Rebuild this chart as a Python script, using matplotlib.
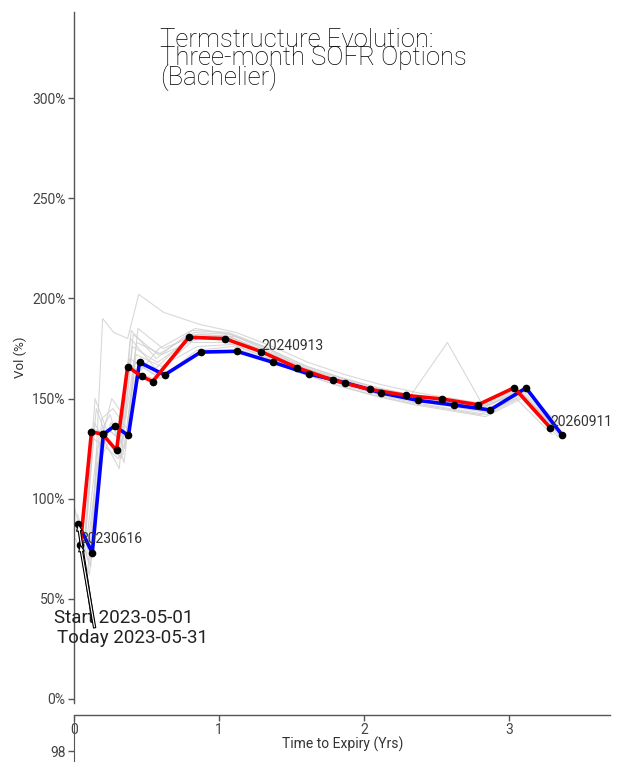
import matplotlib
matplotlib.use('Agg')
import matplotlib.pyplot as plt
from matplotlib.ticker import PercentFormatter, FixedLocator
from datetime import date

plt.rcParams['font.family'] = ['Roboto', 'DejaVu Sans']

# ---------------- data ----------------
EXPIRIES = ['2023-05-12', '2023-06-16', '2023-07-14', '2023-08-11', '2023-09-15',
            '2023-10-13', '2023-11-17', '2023-12-15', '2024-03-15', '2024-06-14',
            '2024-09-13', '2024-12-13', '2025-03-14', '2025-06-13', '2025-09-12',
            '2025-12-12', '2026-03-13', '2026-06-12', '2026-09-11']

START_DATE = '2023-05-01'
TODAY_DATE = '2023-05-31'

START_VOL = [87.2, 73.0, 132.2, 136.3, 131.6, 168.1, None, 161.8, 173.2, 173.6,
             168.1, 162.3, 157.9, 152.8, 149.1, 146.8, 144.3, 155.3, 131.7]
TODAY_VOL = [None, 76.9, 133.4, 132.2, 124.1, 166.0, 161.1, 158.5, 180.6, 179.9,
             173.4, 165.4, 159.1, 154.6, 151.6, 149.8, 146.9, 155.4, 135.4]

HIST_DATES = ['2023-05-03', '2023-05-05', '2023-05-08', '2023-05-10', '2023-05-12',
              '2023-05-15', '2023-05-17', '2023-05-19', '2023-05-22', '2023-05-24',
              '2023-05-26', '2023-05-30']
HIST_VOL = [
    [92, 70, 190, 183, 180, 202, None, 193, 187, 183, 176, 168, 162, 157, 153, 150, 147, 154, 136],
    [85, 66, 140, 145, 135, 185, None, 175, 182, 181, 174, 166, 160, 155, 151, 148, 145, 153, 134],
    [80, 62, 128, 150, 140, 178, None, 172, 180, 180, 172, 164, 158, 153, 149, 146, 143, 152, 133],
    [95, 68, 120, 138, 125, 172, None, 166, 176, 177, 170, 163, 157, 152, 148, 145, 142, 151, 132],
    [None, 64, 132, 142, 118, 168, None, 160, 174, 176, 169, 162, 156, 151, 147, 144, 141, 150, 131],
    [None, 72, 118, 128, 122, 160, None, 175, 185, 182, 175, 165, 159, 154, 150, 147, 144, 152, 135],
    [None, 75, 125, 135, 128, 182, None, 172, 183, 182, 174, 166, 160, 155, 152, 178, 146, 153, 134],
    [None, 78, 145, 130, 120, 176, None, 168, 181, 181, 173, 165, 159, 154, 150, 148, 145, 154, 136],
    [None, 74, 150, 135, 130, 184, None, 170, 184, 183, 176, 167, 161, 156, 152, 149, 146, 155, 137],
    [None, 70, 138, 128, 115, 180, None, 165, 182, 181, 174, 166, 160, 155, 151, 148, 145, 154, 135],
    [None, 66, 130, 126, 120, 170, None, 162, 178, 178, 171, 163, 157, 152, 148, 145, 142, 150, 132],
    [None, 75, 135, 133, 122, 168, 162, 160, 181, 180, 173, 165, 159, 154, 151, 149, 146, 155, 134],
]

LABELLED_EXPIRIES = ['2023-06-16', '2024-09-13', '2026-09-11']
Y_TICKS = [0, 0.5, 1.0, 1.5, 2.0, 2.5, 3.0]
X_TICKS = [0, 1, 2, 3]
LOWER_TICKS = [98]

TITLE = "Termstructure Evolution:\nThree-month SOFR Options\n(Bachelier)"


def d(s):
    return date.fromisoformat(s)


def curve(asof, vols):
    xs, ys, exps = [], [], []
    for e, v in zip(EXPIRIES, vols):
        if v is None:
            continue
        t = (d(e) - d(asof)).days / 365.0
        if t <= 0:
            continue
        xs.append(t)
        ys.append(v / 100.0)
        exps.append(e)
    return xs, ys, exps


# ---------------- figure ----------------
W, H = 621, 762
fig = plt.figure(figsize=(W / 100, H / 100), dpi=100)

ax_l, ax_r, ax_t, ax_b = 74, 610.5, 12, 703
ax = fig.add_axes([ax_l / W, 1 - ax_b / H, (ax_r - ax_l) / W, (ax_b - ax_t) / H])

for hd, hv in zip(HIST_DATES, HIST_VOL):
    xs, ys, _ = curve(hd, hv)
    ax.plot(xs, ys, color='#cfcfcf', lw=0.8, alpha=0.8, zorder=1)

xs_s, ys_s, ex_s = curve(START_DATE, START_VOL)
xs_t, ys_t, ex_t = curve(TODAY_DATE, TODAY_VOL)

ax.plot(xs_s, ys_s, color='#0000ff', lw=2.6, zorder=3, solid_capstyle='butt')
ax.plot(xs_t, ys_t, color='#ff0000', lw=2.6, zorder=4, solid_capstyle='butt')
ax.plot(xs_s, ys_s, 'o', color='black', ms=4.5, zorder=5)
ax.plot(xs_t, ys_t, 'o', color='black', ms=4.5, zorder=5)

for e in LABELLED_EXPIRIES:
    i = ex_t.index(e)
    ax.text(xs_t[i], ys_t[i] + 0.01, e.replace('-', ''), fontsize=10, color='#333333',
            ha='left', va='baseline', zorder=6)

arrow_kw = dict(arrowstyle='simple,head_length=0.35,head_width=0.3,tail_width=0.12',
                facecolor='white', edgecolor='black', lw=0.8,
                shrinkA=0, shrinkB=0, patchA=None)
ax.annotate('Start ' + START_DATE, xy=(xs_s[0], ys_s[0]), xytext=(-0.137, 0.381),
            fontsize=13.5, color='#222222', ha='left', va='baseline',
            arrowprops=dict(arrow_kw, relpos=(0.28, 0.25)), annotation_clip=False, zorder=6)
ax.annotate('Today ' + TODAY_DATE, xy=(xs_t[0], ys_t[0]), xytext=(-0.118, 0.281),
            fontsize=13.5, color='#222222', ha='left', va='baseline',
            arrowprops=dict(arrow_kw, relpos=(0.25, 1.05)), annotation_clip=False, zorder=6)

ax.set_xlim(0, 3.7)
ax.set_ylim(-0.02, 3.43)
ax.yaxis.set_major_locator(FixedLocator(Y_TICKS))
ax.yaxis.set_major_formatter(PercentFormatter(1.0, decimals=0))
ax.xaxis.set_major_locator(FixedLocator(X_TICKS))
ax.set_ylabel('Vol (%)', fontsize=9.5, color='#333333', labelpad=4)
ax.set_xlabel('Time to Expiry (Yrs)', fontsize=10, color='#333333', labelpad=0)

for s in ['top', 'right']:
    ax.spines[s].set_visible(False)
ax.spines['left'].set_color('#555555')
ax.spines['bottom'].set_color('#555555')
ax.spines['left'].set_linewidth(1.0)
ax.spines['bottom'].set_linewidth(1.0)
ax.spines['bottom'].set_position(('outward', 8.5))
ax.tick_params(axis='both', colors='#555555', labelcolor='#444444', labelsize=10,
               length=4, width=1.0, pad=2)

fig.text(160 / W, 1 - 28 / H, TITLE, fontsize=18.5, fontweight='light', color='black',
         ha='left', va='top', linespacing=0.7)

# lower (mostly cut-off) panel
ax2 = fig.add_axes([ax_l / W, 0, (ax_r - ax_l) / W, 45 / H])
ax2.set_ylim(97.9, 98.31)
ax2.yaxis.set_major_locator(FixedLocator(LOWER_TICKS))
ax2.set_xticks([])
for s in ['top', 'right', 'bottom']:
    ax2.spines[s].set_visible(False)
ax2.spines['left'].set_color('#555555')
ax2.patch.set_alpha(0)
ax2.tick_params(axis='y', colors='#555555', labelcolor='#444444', labelsize=10,
                length=4, width=1.0, pad=2)

fig.savefig('out.png', dpi=100)
